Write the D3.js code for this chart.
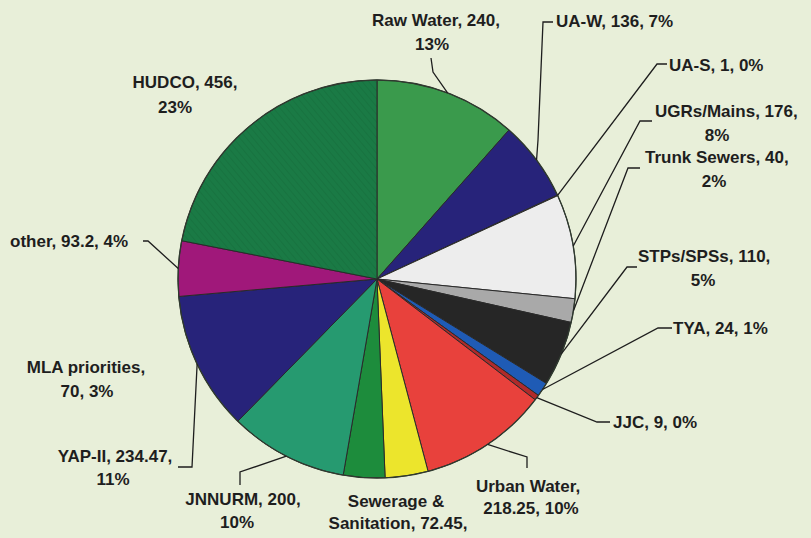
<!DOCTYPE html>
<html>
<head>
<meta charset="utf-8">
<script src="https://cdn.jsdelivr.net/npm/d3@7/dist/d3.min.js"></script>
<style>
  html, body { margin: 0; padding: 0; background: #e8efd9; }
  svg { display: block; }
  text { font-family: "Liberation Sans", Arial, sans-serif; font-weight: bold; fill: #1e1e1e; }
</style>
</head>
<body>
<svg id="chart" width="811" height="538"></svg>
<script>
// Funding sources, clockwise from 12 o'clock
const categories = ["Raw Water", "UA-W", "UA-S", "UGRs/Mains", "Trunk Sewers", "STPs/SPSs", "TYA", "JJC",
  "Urban Water", "Sewerage & Sanitation", "MLA priorities", "JNNURM", "YAP-II", "other", "HUDCO"];
const values = [240, 136, 1, 176, 40, 110, 24, 9, 218.25, 72.45, 70, 200, 234.47, 93.2, 456];
const percentLabels = ["13%", "7%", "0%", "8%", "2%", "5%", "1%", "0%", "10%", "", "3%", "10%", "11%", "4%", "23%"];
const colors = ["#3a9a4c", "#27237a", "#6a6a9a", "#ededed", "#a9a9a9", "#262626", "#1f5bb5", "#b02a2a",
  "#e8413c", "#ece52c", "#1d8c3c", "#269a70", "#27237a", "#a0187a", "#1a7a45"];

// Text lines of each data label
const labelLines = [
  ["Raw Water, 240,", "13%"],
  ["UA-W, 136, 7%"],
  ["UA-S, 1, 0%"],
  ["UGRs/Mains, 176,", "8%"],
  ["Trunk Sewers, 40,", "2%"],
  ["STPs/SPSs, 110,", "5%"],
  ["TYA, 24, 1%"],
  ["JJC, 9, 0%"],
  ["Urban Water,", "218.25, 10%"],
  ["Sewerage &", "Sanitation, 72.45,"],
  ["MLA priorities,", "70, 3%"],
  ["JNNURM, 200,", "10%"],
  ["YAP-II, 234.47,", "11%"],
  ["other, 93.2, 4%"],
  ["HUDCO, 456,", "23%"]
];

// Layout: label line positions [x, baseline, anchor] and leader elbows
const labelPos = [
  [[436, 26, "middle"], [432, 50, "middle"]],
  [[556, 27, "start"]],
  [[669, 71, "start"]],
  [[655, 117, "start"], [717, 141, "middle"]],
  [[645, 163, "start"], [714, 187, "middle"]],
  [[638, 262, "start"], [703, 286, "middle"]],
  [[673, 334, "start"]],
  [[613, 428, "start"]],
  [[528, 492, "middle"], [531, 514, "middle"]],
  [[396, 507, "middle"], [398, 529, "middle"]],
  [[86, 373, "middle"], [87, 397, "middle"]],
  [[243, 505, "middle"], [237, 528, "middle"]],
  [[115, 462, "middle"], [113, 485, "middle"]],
  [[10, 247, "start"]],
  [[185, 88, "middle"], [175, 113, "middle"]]
];
const leaderElbows = [
  [[431, 58], [433, 72]],
  [[553, 22], [543, 22], [538, 140]],
  [[667, 64], [657, 64]],
  [[652, 121], [640, 121]],
  [[640, 168], [628, 168]],
  [[637, 267], [627, 267]],
  [[672, 328], [658, 328]],
  [[610, 422], [597, 422]],
  [[527, 468], [527, 457]],
  null,
  null,
  [[240, 485], [240, 472]],
  [[178, 467], [192, 467]],
  [[143, 241], [148, 241]],
  null
];

const svg = d3.select("#chart");
const cx = 377, cy = 279, r = 199;

const data = categories.map((c, i) => ({ name: c, value: values[i], i }));
const pie = d3.pie().value(d => d.value).sort(null);
const arcs = pie(data);
const arc = d3.arc().innerRadius(0).outerRadius(r);

// faint diagonal texture for the HUDCO slice
const defs = svg.append("defs");
const pat = defs.append("pattern").attr("id", "hatch").attr("patternUnits", "userSpaceOnUse")
  .attr("width", 5).attr("height", 5).attr("patternTransform", "rotate(-40)");
pat.append("rect").attr("width", 5).attr("height", 5).attr("fill", colors[14]);
pat.append("line").attr("x1", 0).attr("y1", 0).attr("x2", 0).attr("y2", 5)
  .attr("stroke", "#146a3a").attr("stroke-width", 1.6).attr("opacity", 0.6);

const g = svg.append("g").attr("transform", `translate(${cx},${cy})`);
g.selectAll("path.slice").data(arcs).enter().append("path")
  .attr("class", "slice")
  .attr("d", arc)
  .attr("fill", d => d.data.name === "HUDCO" ? "url(#hatch)" : colors[d.index])
  .attr("stroke", "#2a2a2a")
  .attr("stroke-width", 1)
  .attr("stroke-linejoin", "round");

// outer rim
g.append("circle").attr("r", r).attr("fill", "none").attr("stroke", "#2f3a2f").attr("stroke-width", 1.3);

// leader lines from slice edge to label
const line = d3.line();
arcs.forEach((a, i) => {
  const el = leaderElbows[i];
  if (!el) return;
  const mid = (a.startAngle + a.endAngle) / 2;
  const edge = [cx + r * Math.sin(mid), cy - r * Math.cos(mid)];
  svg.append("path")
    .attr("d", line([...el, edge]))
    .attr("fill", "none")
    .attr("stroke", "#1e1e1e")
    .attr("stroke-width", 1.3);
});

// data labels
labelLines.forEach((lines, i) => {
  lines.forEach((t, k) => {
    const p = labelPos[i][k];
    svg.append("text")
      .attr("x", p[0]).attr("y", p[1])
      .attr("text-anchor", p[2])
      .attr("font-size", 17)
      .text(t);
  });
});
</script>
</body>
</html>
